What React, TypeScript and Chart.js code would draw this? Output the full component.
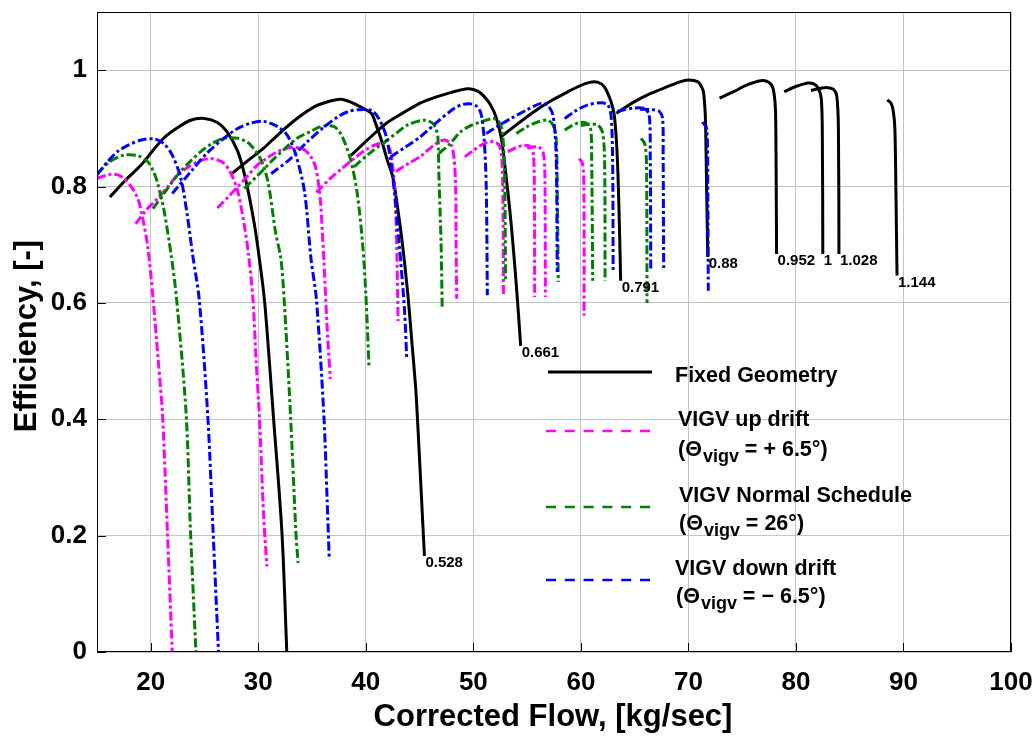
import React, { useEffect, useRef } from "react";
import { Chart, registerables } from "chart.js";

Chart.register(...registerables);

type Pt = [number, number];

const FONT = "'Liberation Sans', Arial, Helvetica, sans-serif";

const X_TICKS = [20, 30, 40, 50, 60, 70, 80, 90, 100];
const Y_TICKS = [0, 0.2, 0.4, 0.6, 0.8, 1];
const X_TITLE = "Corrected Flow, [kg/sec]";
const Y_TITLE = "Efficiency, [-]";

// Fixed geometry speed lines (black, solid)
const fixedGeometry: Pt[][] = [
  [[16.2, 0.782], [17.6, 0.81], [19.1, 0.837], [20.2, 0.862], [21.2, 0.883], [22.4, 0.9], [23.7, 0.914], [25.0, 0.917], [26.2, 0.91], [27.1, 0.894], [28.1, 0.86], [28.8, 0.814], [29.6, 0.739], [30.1, 0.676], [30.6, 0.6], [31.4, 0.406], [32.2, 0.205], [32.65, 0]],
  [[27.4, 0.82], [29.0, 0.844], [30.5, 0.866], [32.0, 0.892], [33.6, 0.917], [35.2, 0.937], [36.7, 0.947], [37.7, 0.95], [38.6, 0.945], [39.5, 0.937], [40.5, 0.926], [40.9, 0.909], [41.55, 0.874], [42.0, 0.845], [42.5, 0.817], [42.9, 0.771], [43.4, 0.702], [43.9, 0.616], [44.3, 0.529], [44.65, 0.45], [45.0, 0.33], [45.3, 0.22], [45.45, 0.165]],
  [[38.6, 0.853], [40.5, 0.886], [42.0, 0.91], [43.5, 0.927], [45.0, 0.943], [46.4, 0.953], [47.8, 0.961], [48.8, 0.966], [49.6, 0.968], [50.4, 0.964], [51.0, 0.955], [51.6, 0.94], [52.1, 0.92], [52.6, 0.883], [53.0, 0.825], [53.5, 0.739], [53.9, 0.653], [54.2, 0.58], [54.4, 0.526]],
  [[52.6, 0.886], [54.0, 0.906], [55.5, 0.927], [57.0, 0.945], [58.5, 0.96], [59.8, 0.972], [60.8, 0.979], [61.6, 0.979], [62.2, 0.971], [62.8, 0.946], [63.1, 0.923], [63.3, 0.88], [63.45, 0.82], [63.6, 0.72], [63.7, 0.638]],
  [[63.3, 0.926], [65.0, 0.946], [66.5, 0.96], [68.1, 0.972], [69.2, 0.98], [70.0, 0.983], [70.9, 0.98], [71.2, 0.972], [71.4, 0.963], [71.55, 0.93], [71.6, 0.906], [71.7, 0.791], [71.8, 0.679]],
  [[72.9, 0.952], [74.2, 0.963], [75.5, 0.975], [76.7, 0.982], [77.4, 0.98], [77.8, 0.972], [78.0, 0.955], [78.1, 0.93], [78.15, 0.85], [78.2, 0.684]],
  [[78.9, 0.963], [80.0, 0.972], [81.1, 0.978], [81.7, 0.976], [82.1, 0.968], [82.35, 0.952], [82.45, 0.9], [82.5, 0.684]],
  [[81.4, 0.965], [82.3, 0.969], [82.95, 0.97], [83.5, 0.967], [83.8, 0.955], [83.95, 0.9], [84.0, 0.684]],
  [[88.5, 0.949], [88.85, 0.943], [89.05, 0.93], [89.2, 0.9], [89.3, 0.79], [89.4, 0.647]],
];
const fixedSpeedLabels = ["", "0.528", "0.661", "0.791", "0.88", "0.952", "1", "1.028", "1.144"];

// VIGV up drift (magenta, dash-dot)
const vigvUpDrift: Pt[][] = [
  [[15.0, 0.814], [16.3, 0.821], [17.2, 0.818], [18.1, 0.802], [18.8, 0.779], [19.2, 0.75], [19.7, 0.699], [20.2, 0.61], [20.7, 0.5], [21.1, 0.406], [21.55, 0.205], [22.0, 0]],
  [[18.6, 0.736], [19.6, 0.76], [20.6, 0.779], [21.6, 0.8], [22.5, 0.82], [23.6, 0.835], [24.65, 0.845], [25.6, 0.848], [26.3, 0.845], [26.8, 0.84], [27.4, 0.825], [28.1, 0.791], [28.7, 0.733], [29.1, 0.682], [29.5, 0.607], [29.8, 0.5], [30.1, 0.406], [30.5, 0.233], [30.8, 0.147]],
  [[26.2, 0.763], [27.2, 0.782], [28.1, 0.8], [29.0, 0.818], [29.9, 0.837], [30.9, 0.85], [31.8, 0.86], [33.0, 0.867], [33.95, 0.866], [34.5, 0.86], [34.9, 0.851], [35.3, 0.835], [35.6, 0.805], [35.8, 0.771], [36.1, 0.673], [36.4, 0.558], [36.7, 0.469]],
  [[35.4, 0.79], [36.7, 0.814], [37.7, 0.83], [38.9, 0.848], [39.9, 0.862], [40.8, 0.871], [41.7, 0.875], [42.2, 0.866], [42.5, 0.834], [42.75, 0.776], [42.9, 0.673], [43.0, 0.569]],
  [[42.8, 0.826], [44.0, 0.84], [45.1, 0.852], [46.4, 0.872], [47.3, 0.88], [47.9, 0.873], [48.2, 0.85], [48.35, 0.8], [48.4, 0.7], [48.45, 0.607]],
  [[49.2, 0.851], [50.0, 0.862], [50.7, 0.871], [51.3, 0.876], [51.9, 0.877], [52.4, 0.871], [52.65, 0.848], [52.75, 0.78], [52.8, 0.61]],
  [[53.2, 0.86], [54.0, 0.867], [54.7, 0.871], [55.35, 0.868], [55.6, 0.854], [55.68, 0.78], [55.7, 0.61]],
  [[55.0, 0.866], [55.6, 0.868], [56.1, 0.868], [56.5, 0.858], [56.65, 0.825], [56.7, 0.61]],
  [[59.85, 0.848], [60.15, 0.84], [60.28, 0.797], [60.3, 0.578]],
];

// VIGV normal schedule (green, dash-dot)
const vigvNormal: Pt[][] = [
  [[15.0, 0.822], [16.2, 0.843], [17.5, 0.854], [18.8, 0.853], [19.7, 0.843], [20.2, 0.828], [20.6, 0.808], [21.2, 0.762], [21.9, 0.682], [22.4, 0.607], [23.3, 0.406], [23.7, 0.205], [24.2, 0]],
  [[20.2, 0.762], [21.3, 0.79], [22.5, 0.82], [23.6, 0.842], [24.65, 0.86], [25.7, 0.874], [26.8, 0.883], [28.1, 0.883], [28.8, 0.878], [29.3, 0.871], [30.2, 0.848], [30.9, 0.808], [31.6, 0.722], [32.1, 0.676], [32.4, 0.607], [33.0, 0.406], [33.5, 0.205], [33.7, 0.153]],
  [[28.7, 0.797], [30.0, 0.82], [31.2, 0.843], [32.4, 0.864], [33.6, 0.883], [34.9, 0.895], [35.8, 0.903], [37.05, 0.903], [37.8, 0.886], [38.6, 0.845], [39.2, 0.788], [39.7, 0.702], [40.0, 0.616], [40.3, 0.489]],
  [[38.9, 0.834], [40.4, 0.858], [42.0, 0.88], [43.0, 0.894], [43.9, 0.906], [45.4, 0.914], [46.2, 0.909], [46.5, 0.9], [46.7, 0.886], [46.8, 0.817], [47.0, 0.702], [47.1, 0.593]],
  [[46.8, 0.857], [47.8, 0.873], [48.8, 0.894], [49.8, 0.905], [50.7, 0.911], [51.9, 0.917], [52.4, 0.911], [52.7, 0.894], [52.9, 0.825], [53.0, 0.636]],
  [[54.0, 0.891], [55.0, 0.903], [56.0, 0.911], [56.9, 0.914], [57.4, 0.906], [57.7, 0.883], [57.8, 0.797], [57.9, 0.636]],
  [[58.5, 0.897], [59.2, 0.905], [59.85, 0.91], [60.5, 0.909], [60.9, 0.9], [61.0, 0.854], [61.1, 0.638]],
  [[60.0, 0.905], [60.8, 0.907], [61.55, 0.906], [62.0, 0.894], [62.2, 0.85], [62.25, 0.638]],
  [[65.6, 0.883], [65.95, 0.873], [66.1, 0.84], [66.15, 0.6]],
];

// VIGV down drift (blue, dash-dot)
const vigvDownDrift: Pt[][] = [
  [[15.0, 0.82], [16.0, 0.843], [16.9, 0.86], [18.0, 0.872], [19.1, 0.88], [20.3, 0.882], [21.2, 0.874], [22.0, 0.854], [22.8, 0.814], [23.4, 0.75], [23.9, 0.682], [24.5, 0.607], [25.3, 0.406], [25.8, 0.205], [26.3, 0]],
  [[22.0, 0.788], [23.7, 0.825], [25.2, 0.857], [26.8, 0.883], [28.0, 0.899], [29.3, 0.909], [30.5, 0.912], [31.8, 0.903], [32.7, 0.888], [33.5, 0.854], [34.3, 0.791], [34.9, 0.676], [35.4, 0.607], [36.1, 0.406], [36.4, 0.262], [36.6, 0.159]],
  [[31.2, 0.822], [33.0, 0.848], [34.5, 0.876], [36.1, 0.902], [37.4, 0.92], [38.4, 0.929], [39.2, 0.932], [40.5, 0.931], [41.2, 0.917], [41.9, 0.886], [42.5, 0.817], [43.1, 0.702], [43.6, 0.587], [43.8, 0.506]],
  [[42.3, 0.851], [43.7, 0.868], [45.1, 0.886], [46.7, 0.912], [48.2, 0.934], [49.0, 0.941], [49.8, 0.942], [50.3, 0.938], [50.7, 0.926], [51.0, 0.883], [51.2, 0.797], [51.3, 0.613]],
  [[51.2, 0.891], [52.3, 0.904], [53.5, 0.917], [55.0, 0.932], [56.3, 0.943], [56.9, 0.94], [57.4, 0.923], [57.7, 0.854], [57.8, 0.653]],
  [[58.5, 0.917], [59.5, 0.93], [60.6, 0.94], [61.9, 0.944], [62.5, 0.94], [62.8, 0.923], [62.95, 0.848], [63.0, 0.655]],
  [[63.4, 0.929], [64.0, 0.932], [65.0, 0.935], [65.9, 0.934], [66.35, 0.923], [66.45, 0.85], [66.5, 0.656]],
  [[65.5, 0.933], [66.7, 0.932], [67.3, 0.929], [67.6, 0.917], [67.65, 0.85], [67.7, 0.656]],
  [[71.3, 0.911], [71.7, 0.9], [71.8, 0.797], [71.85, 0.621]],
];

const legendTitles = ["Fixed Geometry", "VIGV up drift", "VIGV Normal Schedule", "VIGV down drift"];
const legendAngles = ["", "+ 6.5°", "26°", "\u2212 6.5°"];
const COLORS = ["#000000", "#ff00ff", "#008000", "#0000ff"];
const DASH_DOT = [9, 3, 3, 3];

const overlayPlugin = {
  id: "overlay",
  afterDatasetsDraw(chart: any) {
    const { ctx, chartArea: a, scales } = chart;
    const xs = scales.x;
    const ys = scales.y;
    ctx.save();
    ctx.setLineDash([]);
    // box
    ctx.strokeStyle = "#000";
    ctx.lineWidth = 1;
    ctx.strokeRect(a.left + 0.5, a.top + 0.5, a.right - a.left - 1, a.bottom - a.top - 1);
    // inward ticks
    ctx.beginPath();
    X_TICKS.forEach((v) => {
      const px = Math.round(xs.getPixelForValue(v)) + 0.5;
      ctx.moveTo(px, a.bottom);
      ctx.lineTo(px, a.bottom - 9);
    });
    Y_TICKS.forEach((v) => {
      const py = Math.round(ys.getPixelForValue(v)) + 0.5;
      ctx.moveTo(a.left, py);
      ctx.lineTo(a.left + 9, py);
    });
    ctx.stroke();

    // speed labels at end of fixed geometry lines
    ctx.fillStyle = "#000";
    ctx.font = `bold 15px ${FONT}`;
    ctx.textAlign = "left";
    ctx.textBaseline = "alphabetic";
    fixedGeometry.forEach((c, i) => {
      const lbl = fixedSpeedLabels[i];
      if (!lbl) return;
      const [x, y] = c[c.length - 1];
      ctx.fillText(lbl, xs.getPixelForValue(x) + 1, ys.getPixelForValue(y) + 11);
    });

    // legend
    const lineY = [372, 431, 507, 580];
    const titleX = [675, 678, 679, 675];
    const titleY = [382, 426, 502, 575];
    const subY = [0, 456, 530, 603];
    for (let i = 0; i < 4; i++) {
      ctx.beginPath();
      ctx.strokeStyle = COLORS[i];
      if (i === 0) {
        ctx.lineWidth = 3;
        ctx.setLineDash([]);
        ctx.moveTo(548, lineY[i]);
        ctx.lineTo(652, lineY[i]);
      } else {
        ctx.lineWidth = 2.5;
        ctx.setLineDash([10, 8.8]);
        ctx.moveTo(546, lineY[i]);
        ctx.lineTo(652, lineY[i]);
      }
      ctx.stroke();
      ctx.setLineDash([]);
      ctx.fillStyle = "#000";
      ctx.font = `bold 21.5px ${FONT}`;
      ctx.fillText(legendTitles[i], titleX[i], titleY[i]);
      if (i > 0) {
        let x = titleX[i] + (i === 3 ? 1 : 0);
        const y = subY[i];
        ctx.font = `bold 21.5px ${FONT}`;
        ctx.fillText("(\u0398", x, y);
        x += ctx.measureText("(\u0398").width + 1;
        ctx.font = `bold 18px ${FONT}`;
        ctx.fillText("vigv", x, y + 6);
        x += ctx.measureText("vigv").width;
        ctx.font = `bold 21.5px ${FONT}`;
        ctx.fillText(" = " + legendAngles[i] + ")", x, y);
      }
    }

    // axis titles
    ctx.fillStyle = "#000";
    ctx.font = `bold 31px ${FONT}`;
    ctx.textAlign = "center";
    ctx.textBaseline = "middle";
    ctx.fillText(X_TITLE, 553, 717);
    ctx.translate(27, 336);
    ctx.rotate(-Math.PI / 2);
    ctx.fillText(Y_TITLE, 0, 0);
    ctx.restore();
  },
};

export default function App() {
  const ref = useRef<HTMLCanvasElement | null>(null);
  useEffect(() => {
    if (!ref.current) return;
    const series = [
      { curves: vigvDownDrift, color: COLORS[3], dash: DASH_DOT },
      { curves: vigvNormal, color: COLORS[2], dash: DASH_DOT },
      { curves: vigvUpDrift, color: COLORS[1], dash: DASH_DOT },
      { curves: fixedGeometry, color: COLORS[0], dash: [] as number[] },
    ];
    const datasets: any[] = [];
    series.forEach((s) => {
      s.curves.forEach((c) => {
        datasets.push({
          data: c.map(([x, y]) => ({ x, y })),
          borderColor: s.color,
          backgroundColor: s.color,
          borderWidth: 3,
          borderDash: s.dash,
          borderCapStyle: "butt",
          borderJoinStyle: "round",
          pointRadius: 0,
          pointHoverRadius: 0,
          showLine: true,
          fill: false,
          tension: 0.3,
        });
      });
    });
    const tickFont = { family: FONT, size: 26, weight: "bold" as const };
    const chart = new Chart(ref.current, {
      type: "scatter",
      data: { datasets },
      options: {
        animation: false,
        responsive: false,
        devicePixelRatio: 1,
        events: [],
        layout: { padding: { top: 12, right: 24, left: 0, bottom: 0 } },
        plugins: { legend: { display: false }, tooltip: { enabled: false } },
        scales: {
          x: {
            type: "linear",
            min: 15,
            max: 100,
            afterBuildTicks: (s: any) => {
              s.ticks = X_TICKS.map((v) => ({ value: v }));
            },
            afterFit: (s: any) => {
              s.height = 84;
              s.paddingLeft = 0;
              s.paddingRight = 0;
              s.paddingTop = 0;
              s.paddingBottom = 0;
            },
            ticks: {
              font: tickFont,
              color: "#000",
              padding: 15,
              maxRotation: 0,
              autoSkip: false,
              callback: (v: any) => String(v),
            },
            grid: { color: "#c4c4c4", lineWidth: 1, drawTicks: false },
            border: { display: false },
          },
          y: {
            type: "linear",
            min: 0,
            max: 1.1,
            afterBuildTicks: (s: any) => {
              s.ticks = Y_TICKS.map((v) => ({ value: v }));
            },
            afterFit: (s: any) => {
              s.width = 97;
              s.paddingLeft = 0;
              s.paddingRight = 0;
              s.paddingTop = 0;
              s.paddingBottom = 0;
            },
            ticks: {
              font: tickFont,
              color: "#000",
              padding: 10,
              autoSkip: false,
              callback: (v: any) => String(Number(Number(v).toFixed(1))),
            },
            grid: { color: "#c4c4c4", lineWidth: 1, drawTicks: false },
            border: { display: false },
          },
        },
      } as any,
      plugins: [overlayPlugin],
    });
    return () => chart.destroy();
  }, []);
  return (
    <div style={{ position: "absolute", left: 0, top: 0, width: 1035, height: 736, background: "#fff" }}>
      <canvas ref={ref} width={1035} height={736} style={{ width: 1035, height: 736, display: "block" }} />
    </div>
  );
}
